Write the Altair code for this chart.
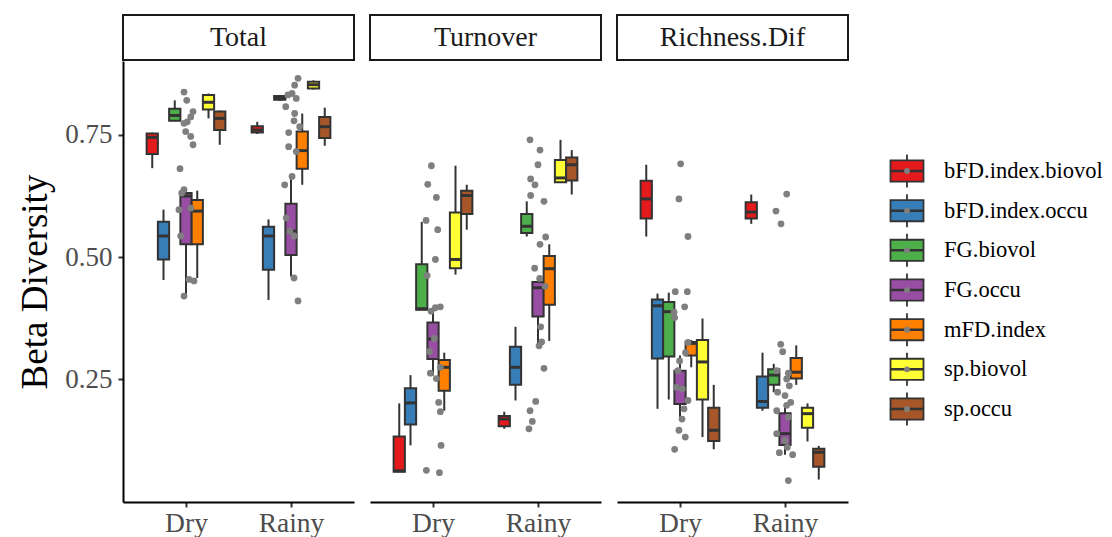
import json
import altair as alt
import pandas as pd

FONT = "Liberation Serif"

panels = ["Total", "Turnover", "Richness.Dif"]
seasons = ["Dry", "Rainy"]
metrics = ["bFD.index.biovol", "bFD.index.occu", "FG.biovol", "FG.occu",
           "mFD.index", "sp.biovol", "sp.occu"]
palette = ["#E41A1C", "#377EB8", "#4DAF4A", "#984EA3", "#FF7F00", "#FFFF33", "#A65628"]
y_ticks = [0.25, 0.50, 0.75]

# ---- box statistics, order: panel -> season -> metric ----
whisker_low = [
    0.682, 0.453, 0.778, 0.423, 0.457, 0.784, 0.730,   # Total / Dry
    0.752, 0.412, 0.820, 0.460, 0.648, 0.843, 0.728,   # Total / Rainy
    0.060, 0.114, 0.392, 0.257, 0.185, 0.464, 0.556,   # Turnover / Dry
    0.148, 0.206, 0.542, 0.321, 0.328, 0.653, 0.628,   # Turnover / Rainy
    0.542, 0.189, 0.208, 0.165, 0.274, 0.131, 0.106,   # Richness.Dif / Dry
    0.568, 0.185, 0.223, 0.095, 0.238, 0.122, 0.044,   # Richness.Dif / Rainy
]
lower_hinge = [
    0.711, 0.495, 0.779, 0.526, 0.526, 0.802, 0.760,
    0.755, 0.474, 0.822, 0.504, 0.681, 0.845, 0.744,
    0.060, 0.157, 0.392, 0.291, 0.226, 0.477, 0.588,
    0.153, 0.238, 0.549, 0.378, 0.402, 0.653, 0.657,
    0.579, 0.292, 0.296, 0.199, 0.298, 0.208, 0.123,
    0.579, 0.191, 0.238, 0.115, 0.251, 0.150, 0.070,
]
median = [
    0.745, 0.543, 0.790, 0.625, 0.594, 0.817, 0.784,
    0.760, 0.543, 0.826, 0.553, 0.718, 0.853, 0.767,
    0.062, 0.201, 0.394, 0.332, 0.274, 0.495, 0.626,
    0.168, 0.274, 0.563, 0.437, 0.476, 0.662, 0.689,
    0.619, 0.400, 0.388, 0.233, 0.323, 0.285, 0.145,
    0.592, 0.204, 0.258, 0.138, 0.264, 0.179, 0.100,
]
upper_hinge = [
    0.753, 0.572, 0.804, 0.631, 0.617, 0.832, 0.798,
    0.768, 0.562, 0.830, 0.609, 0.757, 0.859, 0.787,
    0.132, 0.231, 0.485, 0.366, 0.289, 0.591, 0.636,
    0.174, 0.316, 0.588, 0.449, 0.502, 0.699, 0.704,
    0.656, 0.413, 0.408, 0.267, 0.326, 0.330, 0.191,
    0.612, 0.255, 0.270, 0.180, 0.293, 0.191, 0.107,
]
whisker_high = [
    0.755, 0.597, 0.821, 0.635, 0.636, 0.835, 0.800,
    0.777, 0.577, 0.832, 0.665, 0.794, 0.862, 0.806,
    0.200, 0.258, 0.572, 0.396, 0.304, 0.687, 0.648,
    0.183, 0.357, 0.614, 0.461, 0.526, 0.740, 0.719,
    0.689, 0.425, 0.427, 0.298, 0.330, 0.374, 0.238,
    0.628, 0.304, 0.281, 0.196, 0.319, 0.200, 0.113,
]

# ---- jittered raw points (value, horizontal jitter in category units) ----
total_dry_values = [0.838, 0.821, 0.798, 0.787, 0.777, 0.774, 0.757, 0.747, 0.730, 0.681,
                    0.638, 0.631, 0.597, 0.600, 0.543, 0.454, 0.451, 0.420]
total_dry_jitter = [-0.019, 0.007, 0.067, 0.045, 0.012, -0.019, -0.003, 0.045, 0.067, -0.057,
                    -0.019, -0.041, -0.067, 0.045, -0.050, 0.029, 0.076, -0.019]
total_rainy_values = [0.866, 0.852, 0.835, 0.832, 0.825, 0.808, 0.794, 0.779, 0.767, 0.755,
                      0.726, 0.716, 0.665, 0.648, 0.580, 0.553, 0.543, 0.457, 0.410]
total_rainy_jitter = [0.067, 0.035, 0.010, -0.029, 0.050, -0.050, 0.035, 0.029, 0.083, -0.022,
                      -0.022, 0.050, 0.010, -0.060, -0.045, -0.012, 0.029, 0.029, 0.067]
turnover_dry_values = [0.687, 0.649, 0.622, 0.575, 0.556, 0.495, 0.462, 0.396, 0.398, 0.389,
                       0.333, 0.306, 0.262, 0.251, 0.274, 0.202, 0.183, 0.114, 0.063, 0.058]
turnover_dry_jitter = [-0.015, -0.050, 0.032, -0.066, 0.045, 0.023, -0.056, 0.023, 0.070, -0.018,
                       0.013, -0.034, -0.025, 0.032, 0.070, 0.054, 0.070, 0.077, -0.063, 0.061]
turnover_rainy_values = [0.740, 0.719, 0.689, 0.660, 0.648, 0.626, 0.614, 0.541, 0.526, 0.477,
                         0.456, 0.440, 0.357, 0.326, 0.318, 0.272, 0.204, 0.185, 0.163, 0.148]
turnover_rainy_jitter = [-0.076, 0.019, 0.000, -0.070, -0.029, -0.070, 0.057, 0.073, 0.019, -0.032,
                         0.016, 0.067, 0.025, 0.035, 0.010, 0.057, -0.022, -0.076, -0.054, -0.086]
richness_dry_values = [0.691, 0.619, 0.542, 0.429, 0.429, 0.398, 0.387, 0.376, 0.325, 0.304,
                       0.287, 0.267, 0.233, 0.230, 0.206, 0.189, 0.168, 0.145, 0.131, 0.106]
richness_dry_jitter = [0.006, -0.010, 0.076, -0.045, 0.070, 0.044, -0.057, -0.051, 0.076, 0.053,
                       -0.004, -0.019, -0.035, 0.022, 0.076, 0.038, 0.019, -0.010, 0.050, -0.051]
richness_rainy_values = [0.629, 0.594, 0.568, 0.321, 0.306, 0.267, 0.262, 0.250, 0.236, 0.223,
                         0.216, 0.202, 0.196, 0.185, 0.172, 0.138, 0.124, 0.110, 0.099, 0.095, 0.042]
richness_rainy_jitter = [0.016, -0.086, -0.038, -0.041, -0.022, -0.079, 0.032, 0.016, 0.041, -0.070,
                         0.000, 0.054, 0.016, -0.079, 0.032, -0.079, 0.000, 0.022, -0.054, 0.073, 0.032]

# ---- build tables ----
rows = []
k = 0
for p in panels:
    for s in seasons:
        for m in metrics:
            rows.append(dict(panel=p, season=s, metric=m, wlo=whisker_low[k], q1=lower_hinge[k],
                             med=median[k], q3=upper_hinge[k], whi=whisker_high[k]))
            k += 1
box_df = pd.DataFrame(rows)

point_sets = [
    ("Total", "Dry", total_dry_values, total_dry_jitter),
    ("Total", "Rainy", total_rainy_values, total_rainy_jitter),
    ("Turnover", "Dry", turnover_dry_values, turnover_dry_jitter),
    ("Turnover", "Rainy", turnover_rainy_values, turnover_rainy_jitter),
    ("Richness.Dif", "Dry", richness_dry_values, richness_dry_jitter),
    ("Richness.Dif", "Rainy", richness_rainy_values, richness_rainy_jitter),
]
prow = []
for p, s, vals, jit in point_sets:
    for v, j in zip(vals, jit):
        prow.append(dict(panel=p, season=s, value=v, jitter=j))
pts_df = pd.DataFrame(prow)

# ---- layout constants ----
PW, PH = 231, 441
STRIP_H = 45
DODGE = 0.75
BOXW = DODGE / len(metrics)
DARK = "#333333"

season_js = json.dumps(seasons)
metric_js = json.dumps(metrics)
xc_expr = (f"indexof({season_js}, datum.season) + 1 + "
           f"(indexof({metric_js}, datum.metric) - {(len(metrics) - 1) / 2}) * {BOXW}")

xscale = alt.Scale(domain=[0.4, 2.6], nice=False, zero=False)
yscale = alt.Scale(domain=[-0.002, 0.9016], nice=False, zero=False)
label_expr = f"{season_js}[datum.value - 1]"
x_axis = alt.Axis(values=[1, 2], labelExpr=label_expr, title=None, labelFontSize=27.5,
                  labelPadding=2, tickSize=5, domainWidth=2, tickWidth=2)
y_axis_main = alt.Axis(values=y_ticks, format=".2f", title="Beta Diversity", titleFontSize=37,
                       titleFontWeight="normal", titleColor="black", titlePadding=10,
                       labelFontSize=27, labelPadding=6, tickSize=5, domainWidth=2, tickWidth=2)


def panel_chart(i, pname):
    y_axis = y_axis_main if i == 0 else None
    base = alt.Chart(box_df[box_df.panel == pname]).transform_calculate(
        xc=xc_expr
    ).transform_calculate(
        xl=f"datum.xc - {BOXW / 2}", xr=f"datum.xc + {BOXW / 2}"
    )
    whisk = base.mark_rule(color=DARK, strokeWidth=2).encode(
        x=alt.X("xc:Q", scale=xscale, axis=x_axis),
        y=alt.Y("wlo:Q", scale=yscale, axis=y_axis),
        y2="whi:Q",
    )
    box = base.mark_rect(stroke=DARK, strokeWidth=2).encode(
        x=alt.X("xl:Q", scale=xscale, axis=x_axis),
        x2="xr:Q",
        y=alt.Y("q1:Q", scale=yscale, axis=y_axis),
        y2="q3:Q",
        fill=alt.Fill("metric:N", scale=alt.Scale(domain=metrics, range=palette), legend=None),
    )
    med = base.mark_rule(color=DARK, strokeWidth=3).encode(
        x=alt.X("xl:Q", scale=xscale, axis=x_axis),
        x2="xr:Q",
        y=alt.Y("med:Q", scale=yscale, axis=y_axis),
    )
    pts = alt.Chart(pts_df[pts_df.panel == pname]).transform_calculate(
        xp=f"indexof({season_js}, datum.season) + 1 + datum.jitter"
    ).mark_circle(size=46, color="#7F7F7F", opacity=1).encode(
        x=alt.X("xp:Q", scale=xscale, axis=x_axis),
        y=alt.Y("value:Q", scale=yscale, axis=y_axis),
    )
    sdf = pd.DataFrame({"panel": [pname]})
    strip_rect = alt.Chart(sdf).mark_rect(fill="white", stroke="#1A1A1A", strokeWidth=2).encode(
        x=alt.value(0), x2=alt.value(PW), y=alt.value(-STRIP_H - 1), y2=alt.value(-1)
    )
    strip_text = alt.Chart(sdf).mark_text(font=FONT, fontSize=28, color="#1A1A1A",
                                          baseline="middle", align="center").encode(
        x=alt.value(PW / 2), y=alt.value(-STRIP_H / 2 - 1), text="panel:N"
    )
    return alt.layer(whisk, box, med, pts, strip_rect, strip_text).properties(width=PW, height=PH)


charts = [panel_chart(i, p) for i, p in enumerate(panels)]

# ---- custom legend (boxplot glyphs) ----
ldf = pd.DataFrame({"metric": metrics, "idx": list(range(len(metrics)))})
ly = alt.Y("idx:Q", scale=alt.Scale(domain=[0, len(metrics) - 1], range=[110, 348]), axis=None)
LX = 44
SYM = 1089
lg_base = alt.Chart(ldf)
lg_whisk = lg_base.mark_point(shape="M0,-1L0,1", size=SYM, filled=False, color=DARK,
                              strokeWidth=1.8, opacity=1).encode(x=alt.value(LX), y=ly)
lg_box = lg_base.mark_point(shape="M-1,-0.64L1,-0.64L1,0.64L-1,0.64Z", size=SYM, filled=True,
                            stroke=DARK, strokeWidth=1.8, opacity=1).encode(
    x=alt.value(LX), y=ly,
    fill=alt.Fill("metric:N", scale=alt.Scale(domain=metrics, range=palette), legend=None))
lg_med = lg_base.mark_point(shape="M-1,0L1,0", size=SYM, filled=False, color=DARK,
                            strokeWidth=2.5, opacity=1).encode(x=alt.value(LX), y=ly)
lg_dot = lg_base.mark_circle(size=34, color="#7F7F7F", opacity=1).encode(x=alt.value(LX), y=ly)
lg_text = lg_base.mark_text(font=FONT, fontSize=22.5, color="black", align="left",
                            baseline="middle").encode(x=alt.value(81), y=ly, text="metric:N")
lg_spacer = alt.Chart(pd.DataFrame({"a": [0]})).mark_rect(fill="white").encode(
    x=alt.value(0), x2=alt.value(1), y=alt.value(-STRIP_H - 2), y2=alt.value(-STRIP_H - 1))
legend = alt.layer(lg_spacer, lg_whisk, lg_box, lg_med, lg_dot, lg_text).properties(
    width=230, height=PH)

chart = alt.hconcat(*charts, legend, spacing=14).properties(
    padding={"left": 8, "top": 6, "right": 0, "bottom": 0},
    background="white",
).configure_view(stroke=None).configure_axis(
    labelFont=FONT, titleFont=FONT, labelColor="#4D4D4D", domainColor="black",
    tickColor=DARK, grid=False,
)

chart.save("out.html", embed_options={"renderer": "svg", "actions": False})
